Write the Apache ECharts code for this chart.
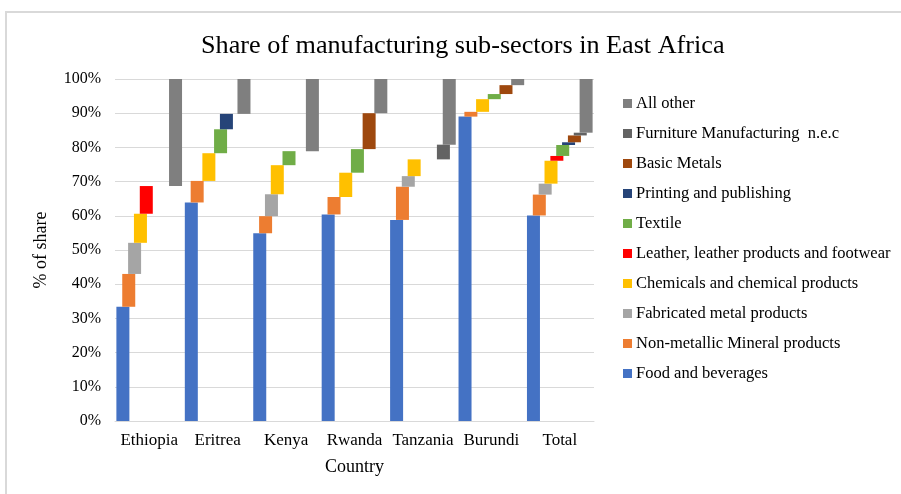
<!DOCTYPE html>
<html lang="en">
<head>
    <meta charset="UTF-8">
    <title>Share of manufacturing sub-sectors in East Africa</title>
    <script src="https://cdn.jsdelivr.net/npm/echarts@6/dist/echarts.min.js"></script>
    <style>
        html, body { margin: 0; padding: 0; background: #fff; }
        #chart { width: 901px; height: 494px; }
    </style>
</head>
<body>
<div id="chart"></div>
<script type="text/javascript">
    // countries on the x axis
    var countries = ['Ethiopia', 'Eritrea', 'Kenya', 'Rwanda', 'Tanzania', 'Burundi', 'Total'];

    // sub-sectors, in stacking order (bottom first)
    var sectors = ['Food and beverages', 'Non-metallic Mineral products', 'Fabricated metal products',
        'Chemicals and chemical products', 'Leather, leather products and footwear', 'Textile',
        'Printing and publishing', 'Basic Metals', 'Furniture Manufacturing  n.e.c', 'All other'];
    var colors = ['#4472C4', '#ED7D31', '#A5A5A5', '#FFC000', '#FF0000', '#70AD47',
        '#264478', '#9E480E', '#636363', '#7F7F7F'];

    // share (%) per country, one array per sub-sector
    var food       = [33.4, 63.9, 54.9, 60.4, 58.8, 89.0, 60.1];
    var nonMetal   = [9.6, 6.3, 5.0, 5.1, 9.7, 1.4, 6.1];
    var fabMetal   = [9.1, 0, 6.4, 0, 3.1, 0, 3.2];
    var chemicals  = [8.5, 8.1, 8.5, 7.1, 4.9, 3.7, 6.7];
    var leather    = [8.1, 0, 0, 0, 0, 0, 1.4];
    var textile    = [0, 7.0, 4.1, 6.9, 0, 1.5, 3.2];
    var printing   = [0, 4.5, 0, 0, 0, 0, 0.8];
    var basicMetal = [0, 0, 0, 10.5, 0, 2.6, 2.0];
    var furniture  = [0, 0, 0, 0, 4.3, 0, 0.8];
    var allOther   = [31.3, 10.2, 21.1, 10.0, 19.2, 1.8, 15.7];

    var values = [food, nonMetal, fabMetal, chemicals, leather, textile, printing, basicMetal, furniture, allOther];

    var serif = 'Liberation Serif';
    var series = [];
    var running = countries.map(function () { return 0; });
    values.forEach(function (vals, i) {
        var base = running.slice();
        // invisible offset so each piece floats where the previous one ended
        series.push({
            name: 'base' + i,
            type: 'bar',
            stack: 's' + i,
            barWidth: 13,
            barGap: '-55%',
            itemStyle: { color: 'transparent' },
            emphasis: { disabled: true },
            silent: true,
            data: base
        });
        series.push({
            name: sectors[i],
            type: 'bar',
            stack: 's' + i,
            barWidth: 13,
            barGap: '-55%',
            itemStyle: { color: colors[i] },
            data: vals
        });
        running = running.map(function (r, k) { return r + vals[k]; });
    });

    var option = {
        animation: false,
        color: colors,
        textStyle: { fontFamily: serif, color: '#000' },
        title: {
            text: 'Share of manufacturing sub-sectors in East Africa',
            left: 196,
            top: 28,
            textStyle: { fontFamily: serif, fontSize: 26.2, fontWeight: 'normal', color: '#000' }
        },
        graphic: [{
            type: 'rect',
            shape: { x: 6, y: 12, width: 1000, height: 1000 },
            style: { fill: 'none', stroke: '#D9D9D9', lineWidth: 2 },
            silent: true
        }],
        legend: {
            orient: 'vertical',
            left: 618,
            top: 90,
            itemWidth: 9,
            itemHeight: 9,
            itemGap: 13,
            icon: 'rect',
            data: sectors.slice().reverse(),
            textStyle: { fontFamily: serif, fontSize: 16.5, color: '#000', padding: [0, 0, 0, -1] }
        },
        grid: { left: 115, right: 307, top: 79, bottom: 73 },
        xAxis: {
            type: 'category',
            data: countries,
            name: 'Country',
            nameLocation: 'middle',
            nameGap: 37,
            nameTextStyle: { fontFamily: serif, fontSize: 18, color: '#000' },
            axisLine: { lineStyle: { color: '#D9D9D9' } },
            axisTick: { show: false },
            axisLabel: { interval: 0, fontFamily: serif, fontSize: 17, color: '#000', margin: 11 }
        },
        yAxis: {
            type: 'value',
            min: 0,
            max: 100,
            interval: 10,
            name: '% of share',
            nameLocation: 'middle',
            nameGap: 65,
            nameTextStyle: { fontFamily: serif, fontSize: 18, color: '#000' },
            axisLabel: { formatter: '{value}%', fontFamily: serif, fontSize: 16, color: '#000', margin: 14 },
            splitLine: { lineStyle: { color: '#D9D9D9' } },
            axisLine: { show: false },
            axisTick: { show: false }
        },
        series: series
    };

    var chart = echarts.init(document.getElementById('chart'));
    chart.setOption(option);
</script>
</body>
</html>
